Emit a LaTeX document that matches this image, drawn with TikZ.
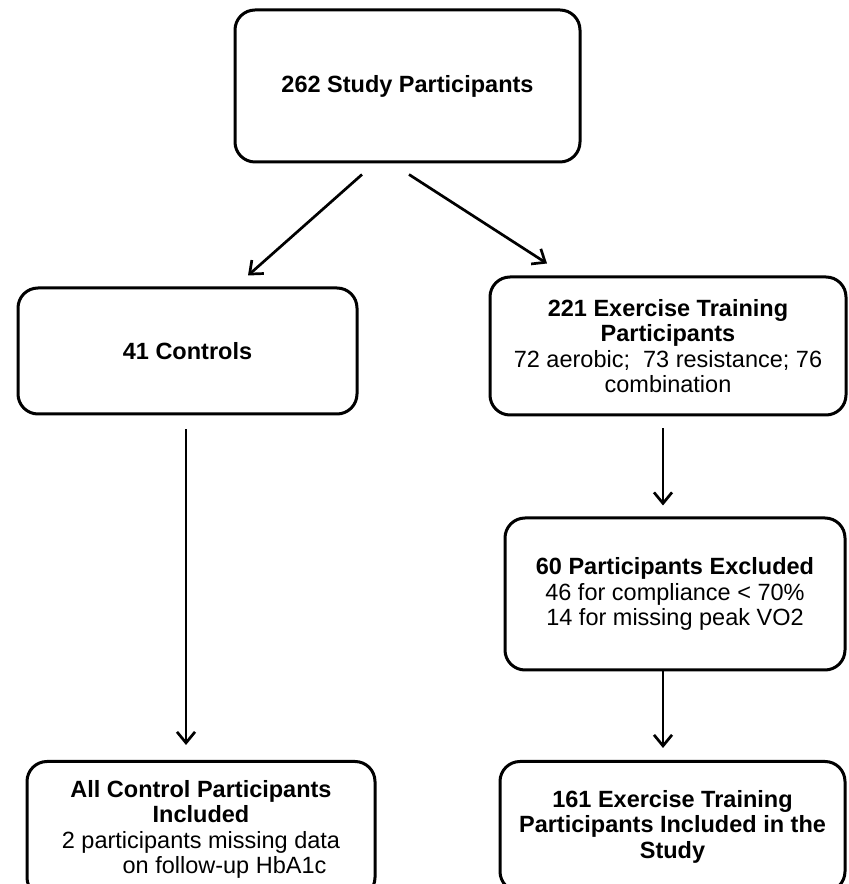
\documentclass[tikz,border=0pt]{standalone}
\usepackage{fontspec}
\setmainfont{Liberation Sans}
\usetikzlibrary{arrows.meta}

\begin{document}
\begin{tikzpicture}[x=1pt, y=1pt,
  flowbox/.style={draw, line width=3pt, rounded corners=20pt, align=center, inner sep=0pt,
    font=\fontsize{23.5}{25.5}\selectfont},
  arr/.style={line width=2.7pt, -{Straight Barb[length=11pt, width=18pt]}}]
  \clip (0,0) rectangle (849,884);
  \node[flowbox, minimum width=345pt, minimum height=152pt] (study) at (407.5,798) {\textbf{262 Study Participants}};
  \node[flowbox, minimum width=339pt, minimum height=126pt] (ctrl) at (187.5,533) {\textbf{41 Controls}};
  \node[flowbox, minimum width=356pt, minimum height=138pt] (exer) at (668,538)
    {\textbf{221 Exercise Training}\\ \textbf{Participants}\\ 72 aerobic;\ \ 73 resistance; 76\\ combination};
  \node[flowbox, minimum width=340pt, minimum height=152pt] (excl) at (675,290)
    {\textbf{60 Participants Excluded}\\ 46 for compliance < 70\%\\ 14 for missing peak VO2};
  \node[flowbox, minimum width=348pt, minimum height=136pt, anchor=north] (incl) at (201,124)
    {\textbf{All Control Participants}\\ \textbf{Included}\\ 2 participants missing data\\ \hspace*{2em}on follow-up HbA1c};
  \node[flowbox, minimum width=345pt, minimum height=130pt, anchor=north] (final) at (672.5,124)
    {\textbf{161 Exercise Training}\\ \textbf{Participants Included in the}\\ \textbf{Study}};

  \draw[arr] ([xshift=-45.5pt, yshift=-11pt]study.south) -- ([xshift=60.5pt, yshift=11pt]ctrl.north);
  \draw[arr] ([xshift=1.5pt, yshift=-11pt]study.south) -- ([xshift=-121pt, yshift=12pt]exer.north);
  \draw[arr] ([xshift=-1.5pt, yshift=-14pt]ctrl.south) -- ([xshift=-15pt, yshift=15pt]incl.north);
  \draw[arr] ([xshift=-5pt, yshift=-12pt]exer.south) -- ([xshift=-12pt, yshift=11pt]excl.north);
  \draw[arr] ([xshift=-12pt]excl.south) -- ([xshift=-9.5pt, yshift=12pt]final.north);
\end{tikzpicture}
\end{document}
